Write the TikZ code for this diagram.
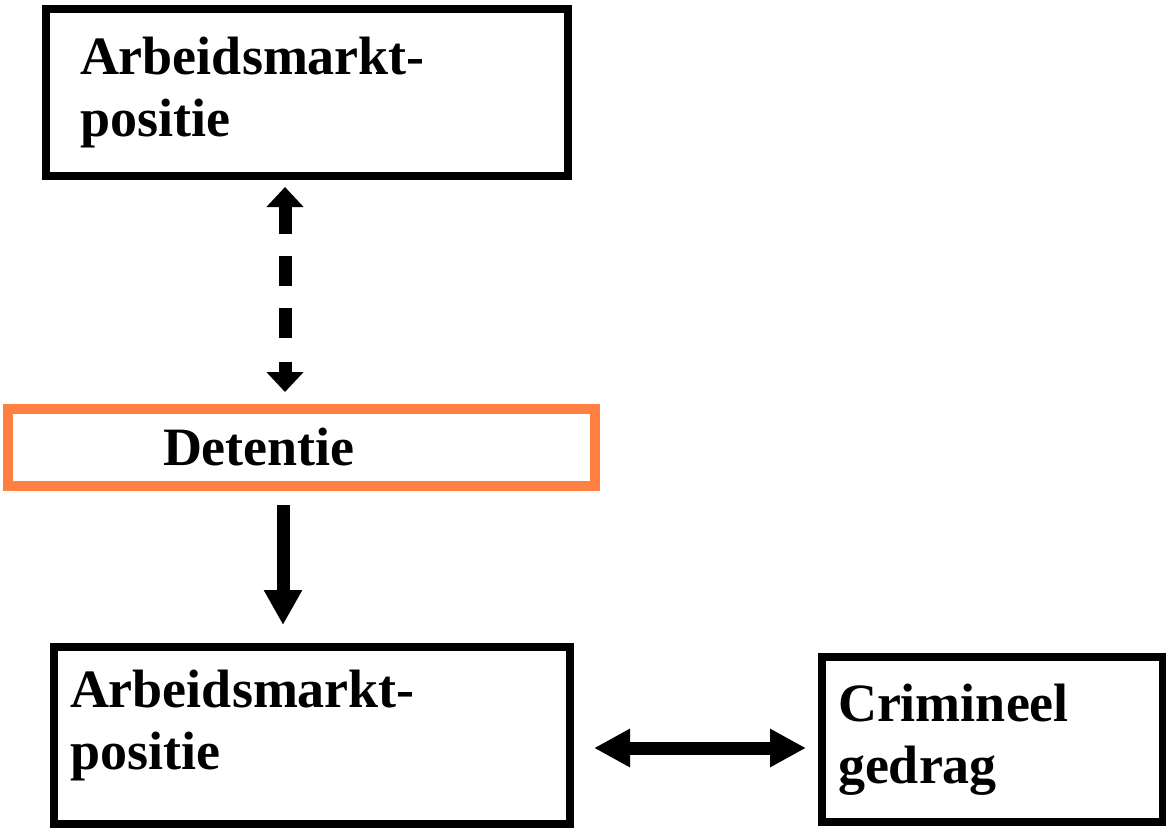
\documentclass[tikz,border=0pt]{standalone}
\usepackage{fontspec}
\setmainfont{Liberation Serif}
\usetikzlibrary{arrows.meta}
\definecolor{detorange}{RGB}{255,128,64}
\tikzset{
  box/.style={draw=black, line width=8pt, rectangle, align=left, anchor=center,
    font=\bfseries\fontsize{54}{62}\selectfont, inner ysep=0pt},
  conn/.style={line width=13pt, black},
}
\begin{document}
\begin{tikzpicture}[x=1pt,y=-1pt]
\useasboundingbox (0,0) rectangle (1166,828);
\node[box, minimum width=522pt, minimum height=167pt, inner xsep=34pt, text width=454pt] (top) at (307,92.5) {Arbeidsmarkt-\\positie};
\node[box, draw=detorange, line width=10pt, minimum width=587pt, minimum height=77pt, inner xsep=155pt, text width=277pt] (det) at (301.5,447.5) {Detentie};
\node[box, minimum width=516pt, minimum height=177pt, inner xsep=16pt, text width=484pt, text depth=94pt] (bot) at (312,735.5) {Arbeidsmarkt-\\positie};
\node[box, minimum width=341pt, minimum height=165pt, inner xsep=16pt, text width=309pt] (crim) at (992.5,739.5) {Crimineel\\gedrag};
\coordinate (ax) at (285,0);
\coordinate (sx) at (283,0);
\coordinate (hy) at (0,748);
\draw[conn, {Triangle[width=36pt,length=20pt]}-{Triangle[width=36pt,length=20pt]},
  dash pattern=on 28pt off 22pt on 30pt off 22pt on 30pt off 24pt on 20pt,
  shorten <=7pt, shorten >=12pt] (top.south -| ax) -- (det.north -| ax);
\draw[conn, -{Triangle[width=36pt,length=35pt]}, shorten <=14pt, shorten >=18pt] (det.south -| sx) -- (bot.north -| sx);
\draw[conn, {Triangle[width=36pt,length=36pt]}-{Triangle[width=36pt,length=36pt]}, shorten <=20pt, shorten >=12pt] (bot.east |- hy) -- (crim.west |- hy);
\end{tikzpicture}
\end{document}
